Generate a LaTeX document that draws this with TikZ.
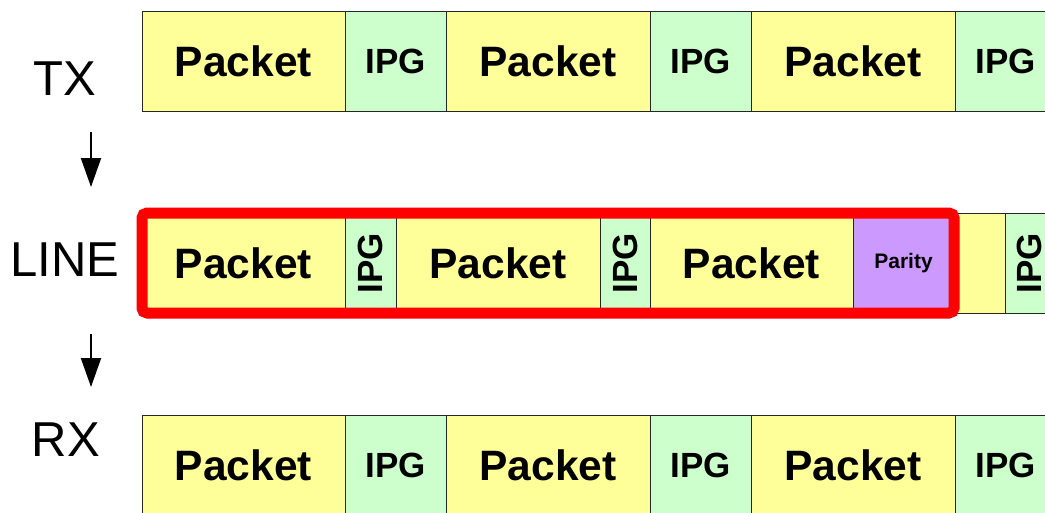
\documentclass[tikz,border=0pt]{standalone}
\usepackage{fontspec}
\setmainfont{Liberation Sans}
\usetikzlibrary{arrows.meta}
\definecolor{pyel}{HTML}{FFFF99}
\definecolor{pgrn}{HTML}{CCFFCC}
\definecolor{ppur}{HTML}{CC99FF}
\definecolor{pred}{HTML}{FF0000}
\tikzset{
  cell/.style={draw=black!85, line width=0.9pt, anchor=north west, minimum height=100pt, inner sep=0pt, outer sep=0pt, font=\bfseries},
  pkt/.style={cell, fill=pyel, font=\bfseries\fontsize{42.5}{46}\selectfont},
  ipg/.style={cell, fill=pgrn, font=\bfseries\fontsize{35}{40}\selectfont},
  vipg/.style={cell, fill=pgrn},
  spacer/.style={cell, fill=pyel},
  par/.style={cell, fill=ppur, font=\bfseries\fontsize{21}{24}\selectfont},
  rowlabel/.style={font=\fontsize{49}{54}\selectfont, inner sep=0pt},
  flow/.style={line width=2pt, -{Triangle[width=20pt,length=29pt]}},
  frame/.style={draw=pred, line width=11pt, rounded corners=5pt}
}
\begin{document}
\begin{tikzpicture}[x=1pt,y=-1pt]
\useasboundingbox (0,0) rectangle (1045,512);
\clip (0,0) rectangle (1045,512);
% TX row
\node[pkt, minimum width=203pt] (t1) at (142,11) {Packet};
\node[ipg, minimum width=101pt] (t2) at (345,11) {IPG};
\node[pkt, minimum width=204pt] (t3) at (446,11) {Packet};
\node[ipg, minimum width=101pt] (t4) at (650,11) {IPG};
\node[pkt, minimum width=204pt] (t5) at (751,11) {Packet};
\node[ipg, minimum width=101pt] (t6) at (955,11) {IPG};
% LINE row
\node[pkt, minimum width=203pt] (l1) at (142,213) {Packet};
\node[vipg, minimum width=51pt] (l2) at (345,213) {};
\node[font=\bfseries\fontsize{35}{40}\selectfont, rotate=90, inner sep=0pt] (l2t) at (l2.center) {IPG};
\node[pkt, minimum width=204pt] (l3) at (396,213) {Packet};
\node[vipg, minimum width=50pt] (l4) at (600,213) {};
\node[font=\bfseries\fontsize{35}{40}\selectfont, rotate=90, inner sep=0pt] (l4t) at (l4.center) {IPG};
\node[pkt, minimum width=203pt] (l5) at (650,213) {Packet};
\node[par, minimum width=101pt] (l6) at (853,213) {Parity};
\node[spacer, minimum width=51pt] (l7) at (954,213) {};
\node[vipg, minimum width=51pt] (l8) at (1005,213) {};
\node[font=\bfseries\fontsize{35}{40}\selectfont, rotate=90, inner sep=0pt] (l8t) at ([xshift=-1pt]l8.center) {IPG};
\draw[frame] (l1.north west) rectangle (l6.south east);
% RX row
\node[pkt, minimum width=203pt] (r1) at (142,415) {Packet};
\node[ipg, minimum width=101pt] (r2) at (345,415) {IPG};
\node[pkt, minimum width=204pt] (r3) at (446,415) {Packet};
\node[ipg, minimum width=101pt] (r4) at (650,415) {IPG};
\node[pkt, minimum width=204pt] (r5) at (751,415) {Packet};
\node[ipg, minimum width=101pt] (r6) at (955,415) {IPG};
% labels
\node[rowlabel] (tx) at (65,79) {TX};
\node[rowlabel] (line) at (65,260) {LINE};
\node[rowlabel] (rx) at (66,440) {RX};
% arrows
\coordinate (a1s) at (91,132);
\coordinate (a1e) at (91,187);
\coordinate (a2s) at (91,334);
\coordinate (a2e) at (91,387);
\draw[flow] (a1s) -- (a1e);
\draw[flow] (a2s) -- (a2e);
\end{tikzpicture}
\end{document}
